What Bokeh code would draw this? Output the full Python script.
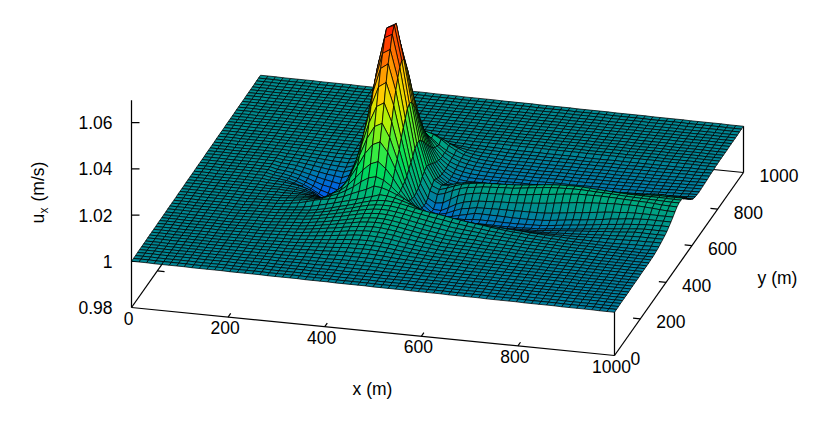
import numpy as np
from bokeh.plotting import figure
from bokeh.models import ColumnDataSource
from bokeh.core.properties import value
from bokeh.embed import file_html
from bokeh.resources import INLINE

# axis ticks
x_ticks = [0, 200, 400, 600, 800, 1000]
y_ticks = [0, 200, 400, 600, 800, 1000]
z_ticks = [0.98, 1.0, 1.02, 1.04, 1.06]
z_labels = ["0.98", "1", "1.02", "1.04", "1.06"]
n_cells = 64

# far field of u_x, read along the surface edges (1e-4 m/s)
far_x = [0,0,0,-1,-1,-1,-1,-1,-2,-2,-2,-2,-2,-3,-3,-3,-3,-3,-4,-4,-4,-4,-4,-5,-5,-5,-5,-6,-6,-6,-6,-6,-7,-7,-7,-7,-7,-8,-8,-8,-8,-8,-9,-9,-9,-9,-9,-10,-10,-10,-10,-10,-11,-11,-11,-11,-11,-12,-12,-12,-12,-12,-13,-13,-13]
far_y = [0,0,0,1,1,1,1,1,2,2,2,2,2,3,3,3,3,3,4,4,4,4,4,5,5,5,5,6,6,6,6,6,7,7,7,7,7,8,8,8,8,8,9,9,9,9,9,10,10,10,10,10,11,11,11,11,11,12,12,12,12,12,13,13,13]

# u_x departure around the peak (1e-4 m/s): rows j=5..49, columns i=10..64
first_i, first_j = 10, 5
u_rows = [
[0,0,0,0,0,1,1,1,1,1,2,2,2,2,3,3,3,3,3,3,3,3,3,3,2,2,2,2,2,1,1,1,1,1,1,1,1,1],
[0,0,0,0,0,1,1,1,1,2,2,3,3,4,4,5,5,6,6,6,6,5,4,4,3,3,2,2,2,2,1,1,1,1,1,1,1,1,1],
[0,0,0,1,1,1,1,2,2,3,3,4,5,6,6,7,8,9,9,9,8,8,7,6,5,4,3,3,3,2,2,2,2,2,1,1,1,1,1,1,1,1],
[0,0,1,1,1,1,2,2,3,4,5,6,7,8,9,11,12,13,13,13,12,11,10,8,7,6,5,4,4,3,3,3,2,2,2,2,2,1,1,1,1,1,1,1,1],
[0,1,1,1,1,2,3,3,4,5,6,8,9,11,13,15,16,17,18,18,17,15,13,11,10,8,7,6,5,5,4,4,3,3,3,2,2,2,2,1,1,1,1,1,1,1,1],
[0,1,1,1,2,3,3,4,5,7,8,10,12,15,17,20,22,23,24,24,22,20,18,15,13,11,9,8,7,6,6,5,5,4,4,3,3,2,2,2,2,1,1,1,1,1,1],
[1,1,2,2,2,3,4,5,7,8,11,13,16,19,22,25,27,29,30,29,28,25,22,19,16,14,11,10,9,8,7,6,6,5,5,4,4,3,3,2,2,2,2,1,1,1,1,1],
[1,1,2,2,3,4,5,6,8,10,13,15,19,22,26,30,32,35,36,35,33,30,27,23,19,16,14,12,10,9,8,8,7,6,5,5,4,4,3,3,3,2,2,2,1,1,1,1,1],
[1,1,2,3,3,5,6,8,9,12,15,18,22,27,31,35,39,42,43,42,40,36,32,27,23,19,16,14,12,11,10,9,8,7,6,6,5,4,4,3,3,3,2,2,2,1,1,1,1],
[1,2,3,3,4,6,7,9,11,14,18,22,26,31,36,41,45,49,50,49,46,42,37,32,28,24,20,17,15,14,13,12,11,10,9,8,7,6,5,5,4,3,3,2,2,2,1,1,1,1],
[1,2,3,3,5,6,8,10,13,16,20,25,30,35,41,47,51,55,57,56,52,48,43,38,32,28,24,20,18,16,15,14,13,11,10,9,8,7,6,5,5,4,3,3,2,2,2,1,1,1],
[1,2,3,4,5,7,9,12,14,18,22,28,33,40,46,52,58,62,64,63,59,54,49,43,37,32,28,24,21,19,17,16,15,13,12,11,10,8,7,6,6,5,4,3,3,2,2,2,1,1],
[1,2,4,4,6,8,10,13,15,20,25,30,36,43,50,57,63,68,70,69,65,60,55,48,42,37,32,28,25,22,20,19,17,15,14,12,11,10,8,7,6,5,4,4,3,2,2,2,1,1],
[2,2,4,5,6,8,11,14,17,21,27,33,40,47,55,62,69,74,76,75,71,66,60,54,48,42,37,33,29,26,24,22,20,18,16,14,12,10,9,8,7,6,5,4,3,3,2,2,1,1],
[2,3,4,5,7,9,12,15,18,23,29,36,43,51,59,67,74,80,82,81,77,72,66,60,54,48,43,38,34,31,28,25,22,20,18,15,13,11,10,8,7,6,5,4,3,3,2,2,1,1],
[2,3,4,6,7,10,13,16,19,25,31,38,46,55,63,72,80,86,88,87,83,78,72,66,60,55,50,45,40,36,32,28,25,22,19,16,14,12,10,8,7,6,5,4,3,3,2,2,1,1,0,0,0,0,2],
[2,3,4,6,8,10,13,16,19,25,32,40,49,58,67,77,86,93,95,93,88,82,76,70,64,60,55,50,45,40,36,32,28,24,20,17,15,12,10,8,6,5,4,3,2,2,1,1,1,0,0,0,1,2,4],
[2,3,4,6,8,10,13,17,24,32,40,48,57,66,75,84,93,105,103,97,88,78,66,50,33,32,30,28,27,25,23,21,19,17,15,13,11,9,8,6,5,4,3,2,2,1,1,1,1,2,3,4,5,6,7],
[2,3,4,6,9,13,18,26,36,44,48,56,66,82,95,108,125,122,112,98,84,66,48,20,18,17,15,12,8,6,4,2,0,-1,-2,-3,-3,-3,-3,-3,-2,-2,-1,0,1,2,3,4,5,6,7,8,9,10,10],
[2,3,4,6,9,13,18,24,30,38,50,62,79,100,125,145,153,142,119,90,65,42,22,5,3,2,0,-2,-5,-8,-10,-12,-13,-14,-14,-14,-13,-12,-11,-10,-8,-6,-4,-2,0,2,4,6,8,10,12,13,14,14,14],
[1,2,3,5,8,11,14,18,20,28,49,64,91,126,164,193,206,180,140,93,51,19,-2,-11,-15,-17,-20,-22,-22,-23,-24,-24,-24,-24,-23,-22,-21,-19,-16,-13,-10,-7,-4,-1,1,4,7,10,12,15,18,18,18,18,18],
[1,1,2,3,5,7,9,11,8,22,43,68,110,164,222,264,279,238,171,100,42,4,-17,-23,-28,-30,-30,-30,-30,-30,-30,-30,-30,-29,-29,-28,-26,-24,-21,-18,-15,-12,-8,-4,-1,3,7,10,14,17,20,22,23,23,23],
[0,0,1,1,2,2,2,1,-5,6,32,66,123,196,274,329,346,288,198,104,35,-8,-29,-38,-38,-34,-33,-32,-28,-27,-27,-27,-27,-27,-27,-26,-25,-23,-20,-16,-12,-8,-4,0,4,8,12,16,20,23,25,28,29,30,30],
[-1,-1,0,-1,-2,-4,-8,-15,-25,-14,17,58,133,228,329,403,422,343,227,115,32,-16,-39,-47,-46,-38,-30,-22,-14,-14,-15,-15,-15,-16,-16,-16,-15,-13,-10,-6,-2,2,6,10,14,18,23,27,31,34,36,38,38,38,38],
[-2,-3,-3,-4,-6,-10,-16,-26,-50,-34,-1,48,142,262,389,476,498,402,264,132,37,-18,-42,-48,-40,-26,-14,-8,-2,-1,0,1,2,2,3,3,4,6,9,13,17,21,25,29,33,37,40,43,46,47,47,47,47,47,47],
[-3,-4,-5,-7,-11,-17,-27,-44,-75,-56,-19,38,146,286,439,543,566,454,296,149,42,-18,-42,-44,-28,-10,2,10,14,16,18,20,22,24,26,29,32,36,40,44,48,52,55,58,60,62,64,65,66,66,64,62,60,58,57],
[-4,-5,-7,-10,-15,-24,-38,-60,-95,-72,-34,30,150,306,478,596,616,495,323,163,50,-10,-27,-23,-4,15,25,32,36,38,40,42,44,47,50,54,58,62,66,70,73,76,77,78,78,77,76,75,74,73,72,70,68,67,66],
[-6,-9,-13,-20,-30,-45,-62,-82,-105,-85,-49,28,157,330,512,650,668,529,352,184,67,8,-4,5,20,32,40,45,50,52,54,56,58,62,66,70,74,78,80,81,82,82,82,80,79,78,76,75,74,73,72,71,71,70,70],
[-7,-11,-16,-24,-35,-50,-68,-85,-100,-80,-47,34,170,348,536,680,695,545,362,191,76,18,5,15,28,38,45,50,54,55,56,58,60,63,66,70,74,78,80,81,82,81,80,78,76,74,73,72,72,71,71,71,71,70,70],
[-8,-11,-18,-25,-37,-50,-65,-75,-85,-68,-37,44,178,353,537,672,690,540,359,194,86,30,12,15,26,32,36,38,40,42,42,42,42,42,42,44,48,52,55,58,60,60,60,60,60,60,61,62,63,64,65,66,66,66,66],
[-8,-11,-16,-23,-33,-44,-55,-62,-70,-53,-25,48,173,335,506,609,631,504,333,181,79,23,2,0,5,6,8,10,10,6,2,-2,-3,-3,-2,-1,1,4,8,12,17,22,27,32,35,38,42,46,50,54,57,58,57,56,55],
[-7,-10,-14,-20,-28,-36,-44,-50,-55,-40,-14,54,168,318,474,567,582,465,306,166,70,16,-7,-13,-12,-16,-20,-20,-18,-17,-17,-17,-17,-16,-16,-16,-15,-14,-12,-10,-8,-4,0,4,8,14,20,26,32,36,40,42,42,41,40],
[-6,-8,-11,-16,-22,-28,-34,-38,-42,-28,-4,57,159,291,429,511,524,414,272,146,60,8,-14,-22,-24,-28,-27,-26,-25,-24,-24,-24,-24,-23,-23,-22,-22,-21,-20,-19,-17,-15,-13,-10,-6,-2,3,9,14,18,22,24,25,25,25],
[-5,-6,-9,-12,-16,-21,-26,-28,-30,-18,2,55,142,257,375,446,456,358,237,127,51,6,-16,-24,-27,-28,-28,-28,-27,-27,-26,-26,-26,-26,-25,-25,-25,-24,-24,-23,-22,-21,-19,-17,-14,-12,-9,-6,-2,2,6,9,10,10,10],
[-4,-5,-7,-9,-12,-16,-19,-21,-22,-12,6,51,126,222,322,383,388,305,202,108,43,5,-14,-23,-27,-27,-27,-27,-26,-26,-25,-25,-25,-25,-25,-24,-24,-24,-24,-23,-23,-22,-21,-20,-19,-18,-16,-14,-12,-10,-7,-4,-1,0,0],
[-3,-4,-5,-7,-9,-12,-14,-15,-15,-7,8,44,106,186,268,318,320,254,169,91,37,5,-12,-19,-24,-25,-25,-25,-25,-25,-24,-24,-24,-24,-24,-23,-23,-23,-22,-22,-22,-21,-20,-20,-19,-18,-17,-16,-15,-13,-12,-10,-8,-6,-4],
[-2,-3,-4,-5,-7,-8,-10,-10,-10,-3,8,38,88,152,217,258,257,206,138,75,32,7,-7,-15,-20,-22,-23,-23,-23,-23,-22,-22,-22,-22,-22,-21,-21,-21,-21,-20,-20,-19,-19,-18,-18,-17,-16,-15,-14,-13,-12,-10,-9,-7,-6],
[-1,-2,-3,-4,-5,-6,-7,-7,-7,-2,7,30,69,119,170,200,199,162,111,63,29,8,-4,-10,-15,-18,-20,-20,-20,-20,-20,-20,-20,-20,-19,-19,-19,-19,-19,-19,-18,-18,-17,-17,-16,-16,-15,-14,-14,-13,-12,-11,-10,-9,-8],
[-1,-1,-2,-3,-3,-4,-5,-5,-5,0,7,24,53,92,130,153,150,127,93,58,32,13,1,-7,-12,-15,-17,-18,-18,-18,-18,-18,-18,-18,-17,-17,-17,-17,-17,-16,-16,-16,-15,-15,-15,-14,-14,-13,-12,-12,-11,-10,-9,-8,-7],
[-1,-1,-1,-2,-2,-3,-3,-3,-3,0,5,18,39,66,94,111,112,98,76,50,28,13,3,-4,-9,-12,-14,-15,-16,-16,-16,-16,-16,-16,-15,-15,-15,-15,-15,-14,-14,-14,-14,-13,-13,-13,-12,-12,-11,-10,-10,-9,-8,-7,-6],
[0,-1,-1,-1,-2,-2,-2,-2,-2,-2,1,9,22,40,60,80,85,90,80,62,38,20,6,-2,-7,-10,-12,-13,-14,-14,-14,-14,-14,-14,-14,-13,-13,-13,-13,-13,-12,-12,-12,-12,-11,-11,-11,-10,-10,-9,-9,-8,-7,-6,-5],
[0,0,-1,-1,-1,-1,-1,-1,-1,-1,1,6,14,26,40,55,60,68,65,50,32,17,5,-2,-6,-8,-10,-11,-12,-12,-12,-12,-12,-12,-12,-12,-12,-11,-11,-11,-11,-10,-10,-10,-10,-9,-9,-9,-8,-8,-7,-7,-6,-5,-4],
[0,0,0,0,0,0,0,0,0,0,1,4,9,16,25,34,40,42,35,25,14,6,1,-3,-5,-7,-8,-9,-10,-10,-10,-10,-10,-10,-10,-10,-10,-10,-9,-9,-9,-9,-9,-8,-8,-8,-8,-7,-7,-6,-6,-5,-5,-4,-3],
[0,0,0,0,0,0,0,0,0,0,0,2,5,9,14,20,25,22,15,8,3,0,-2,-3,-4,-5,-6,-7,-8,-8,-8,-8,-8,-8,-8,-8,-8,-8,-8,-8,-7,-7,-7,-7,-6,-6,-6,-6,-5,-5,-5,-4,-4,-3,-2],
[0,0,0,0,0,0,0,0,0,0,0,1,2,4,7,10,15,10,5,2,0,-1,-2,-2,-3,-4,-5,-5,-6,-6,-6,-6,-6,-6,-6,-6,-6,-6,-6,-6,-6,-5,-5,-5,-5,-5,-5,-4,-4,-4,-4,-3,-3,-2,-2],
]

# colour scale stops
pal_z = [0.985, 0.994, 0.997, 0.998, 1.0, 1.003, 1.006, 1.01, 1.017, 1.023, 1.03, 1.037, 1.045, 1.055, 1.063, 1.07]
pal_r = [0, 0, 0, 0, 0, 0, 0, 0, 0, 50, 120, 200, 255, 255, 255, 255]
pal_g = [60, 100, 118, 125, 135, 152, 168, 185, 220, 235, 240, 240, 205, 140, 70, 10]
pal_b = [255, 225, 190, 170, 148, 138, 128, 118, 90, 70, 30, 0, 0, 0, 0, 0]

# fixed gnuplot-style view, in page pixels
O = (131.0, 307.0)
XV = (0.483, 0.048)
YV = (0.129, -0.183)
ZPX = 2312.0
ZMIN = 0.98

def proj(x, y, z):
    x, y, z = np.asarray(x, float), np.asarray(y, float), np.asarray(z, float)
    return (O[0] + XV[0]*x + YV[0]*y, O[1] + XV[1]*x + YV[1]*y - ZPX*(z - ZMIN))

X = np.linspace(0, 1000, n_cells + 1)
Y = np.linspace(0, 1000, n_cells + 1)
nx, ny = len(X), len(Y)
Z = np.array([[far_x[i] + far_y[j] for i in range(nx)] for j in range(ny)], float)
for dj, row in enumerate(u_rows):
    row = (row + [0]*55)[:55]
    for di, v in enumerate(row):
        Z[first_j + dj, first_i + di] += v
Z = 1.0 + Z*1e-4

p = figure(width=826, height=426, x_range=(0, 826), y_range=(426, 0),
           toolbar_location=None, output_backend="svg", min_border=0,
           x_axis_type=None, y_axis_type=None, outline_line_color=None)
p.grid.visible = False
p.background_fill_color = "white"

def seg(a, b, w=1.25):
    p.line([a[0], b[0]], [a[1], b[1]], line_color="black", line_width=w)

def pt(x, y, z=ZMIN):
    sx, sy = proj(x, y, z)
    return (float(sx), float(sy))

# box behind the surface
seg(pt(0, 0), pt(1000, 0))
seg(pt(0, 0), pt(0, 1000))
seg(pt(1000, 0), pt(1000, 1000))
seg(pt(0, 1000), pt(1000, 1000))
seg(pt(0, 0), pt(0, 0, 1.0696))
seg(pt(1000, 0), pt(1000, 0, 1.0))
seg(pt(1000, 1000), pt(1000, 1000, 1.0))
for t in x_ticks[1:-1]:
    seg(pt(t, 0), pt(t, 20))
for t in y_ticks[1:-1]:
    seg(pt(0, t), pt(15, t))
    seg(pt(1000, t), pt(985, t))
for t in z_ticks[1:]:
    a = pt(0, 0, t)
    b = (a[0] + 8, a[1])
    seg(a, b)

# surface quads, far to near
xs, ys, cols, order = [], [], [], []
for j in range(ny - 1):
    for i in range(nx - 1):
        qx = [X[i], X[i+1], X[i+1], X[i]]
        qy = [Y[j], Y[j], Y[j+1], Y[j+1]]
        qz = [Z[j, i], Z[j, i+1], Z[j+1, i+1], Z[j+1, i]]
        sx, sy = proj(qx, qy, qz)
        zc = float(np.mean(qz))
        r = int(np.interp(zc, pal_z, pal_r))
        g = int(np.interp(zc, pal_z, pal_g))
        b = int(np.interp(zc, pal_z, pal_b))
        xs.append(sx.tolist()); ys.append(sy.tolist())
        cols.append("#%02x%02x%02x" % (r, g, b))
        order.append(0.048*np.mean(qx) - 0.183*np.mean(qy))
idx = np.argsort(order)
src = ColumnDataSource(dict(xs=[xs[k] for k in idx], ys=[ys[k] for k in idx],
                            c=[cols[k] for k in idx]))
p.patches("xs", "ys", source=src, fill_color="c", line_color="#000000", line_width=0.75)

FONT = value("Liberation Sans")
FS = "17.5px"

def label(sx, sy, txt, align="center", angle=0.0, size=FS):
    p.text([sx], [sy], text=[txt], text_align=align, text_baseline="middle",
           text_font=FONT, text_font_size=size, text_color="black", angle=angle)

for t, s in zip(z_ticks, z_labels):
    a = pt(0, 0, t)
    label(112, a[1], s, "right")
for t in x_ticks:
    a = pt(t, 0)
    label(a[0] - 3, a[1] + 10.5, str(t))
for t in y_ticks:
    a = pt(1000, t)
    label(a[0] + 16, a[1] + 3, str(t), "left")

label(372, 388, "x (m)")
label(777, 277, "y (m)")
# rotated z label with subscript
label(37, 223, "u", "left", np.pi/2)
label(43, 213, "x", "left", np.pi/2, "12px")
label(37, 201, "(m/s)", "left", np.pi/2)

html = file_html(p, INLINE)
open("out.html", "w").write(html)
